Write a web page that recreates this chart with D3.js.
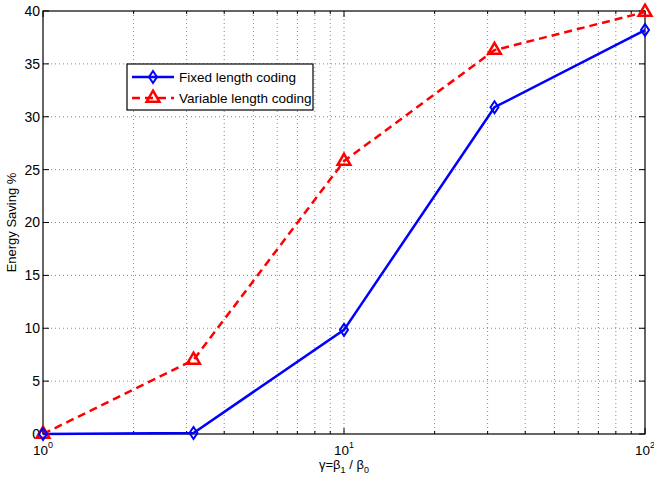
<!DOCTYPE html>
<html lang="en">
<head>
<meta charset="UTF-8">
<title>Energy Saving</title>
<style>
  body { margin: 0; background: #fff; }
  text { font-family: "Liberation Sans", Arial, sans-serif; }
</style>
</head>
<body>
<script src="https://cdnjs.cloudflare.com/ajax/libs/d3/7.8.5/d3.min.js"></script>
<script>
  let gammas = [1, 3.1623, 10, 31.623, 100]
  let fixedSaving = [0, 0.1, 9.85, 30.9, 38.2]
  let variableSaving = [0, 7.0, 25.8, 36.3, 39.9]
  let yTicks = [0, 5, 10, 15, 20, 25, 30, 35, 40]
  let xMajor = [1, 10, 100]

  let width = 654
  let height = 481
  let margin = { left: 43, right: 9, top: 11, bottom: 47 }
  let iw = width - margin.left - margin.right
  let ih = height - margin.top - margin.bottom

  let svg = d3.select('body').append('svg')
    .attr('width', width)
    .attr('height', height)

  let g = svg.append('g').attr('transform', `translate(${margin.left},${margin.top})`)

  let x = d3.scaleLog().domain([1, 100]).range([0, iw])
  let y = d3.scaleLinear().domain([0, 40]).range([ih, 0])

  // minor log ticks
  let xMinor = []
  for (let d = 1; d < 100; d *= 10) {
    for (let k = 2; k <= 9; k++) xMinor.push(d * k)
  }
  let xAll = xMinor.concat(xMajor.slice(1, 2))

  // grid
  g.selectAll('.vgrid').data(xAll).enter().append('line')
    .attr('x1', d => x(d)).attr('x2', d => x(d))
    .attr('y1', 0).attr('y2', ih)
    .attr('stroke', '#555').attr('stroke-width', 0.7)
    .attr('stroke-dasharray', '1,3')
  g.selectAll('.hgrid').data(yTicks.slice(1, -1)).enter().append('line')
    .attr('x1', 0).attr('x2', iw)
    .attr('y1', d => y(d)).attr('y2', d => y(d))
    .attr('stroke', '#555').attr('stroke-width', 0.7)
    .attr('stroke-dasharray', '1,3')

  // box
  g.append('rect').attr('width', iw).attr('height', ih)
    .attr('fill', 'none').attr('stroke', '#000').attr('stroke-width', 1.2)

  // ticks (inside, all four sides)
  let major = 6, minor = 3
  xMajor.concat(xMinor).forEach(d => {
    let len = xMajor.includes(d) ? major : minor
    g.append('line').attr('x1', x(d)).attr('x2', x(d)).attr('y1', ih).attr('y2', ih - len).attr('stroke', '#000')
    g.append('line').attr('x1', x(d)).attr('x2', x(d)).attr('y1', 0).attr('y2', len).attr('stroke', '#000')
  })
  yTicks.forEach(d => {
    g.append('line').attr('x1', 0).attr('x2', major).attr('y1', y(d)).attr('y2', y(d)).attr('stroke', '#000')
    g.append('line').attr('x1', iw).attr('x2', iw - major).attr('y1', y(d)).attr('y2', y(d)).attr('stroke', '#000')
  })

  // tick labels
  g.selectAll('.ylab').data(yTicks).enter().append('text')
    .attr('x', -3).attr('y', d => y(d)).attr('dy', '0.35em')
    .attr('text-anchor', 'end').attr('font-size', 14)
    .text(d => d)
  let xl = g.selectAll('.xlab').data(xMajor).enter().append('text')
    .attr('x', d => x(d)).attr('y', ih + 21)
    .attr('text-anchor', 'middle').attr('font-size', 13.5)
  xl.append('tspan').text('10')
  xl.append('tspan').attr('dy', -7).attr('font-size', 9).text(d => Math.round(Math.log10(d)))

  // axis titles
  svg.append('text')
    .attr('transform', `translate(16,${margin.top + ih / 2}) rotate(-90)`)
    .attr('text-anchor', 'middle').attr('font-size', 13)
    .text('Energy Saving %')
  let xt = svg.append('text')
    .attr('x', margin.left + iw / 2).attr('y', 469)
    .attr('text-anchor', 'middle').attr('font-size', 13)
  xt.append('tspan').text('γ=β')
  xt.append('tspan').attr('dy', 4).attr('font-size', 9).text('1')
  xt.append('tspan').attr('dy', -4).text(' / β')
  xt.append('tspan').attr('dy', 4).attr('font-size', 9).text('0')

  let line = d3.line().x(d => x(d[0])).y(d => y(d[1]))
  let fixedPts = gammas.map((d, i) => [d, fixedSaving[i]])
  let varPts = gammas.map((d, i) => [d, variableSaving[i]])

  let plot = g.append('g')
  plot.append('path').datum(varPts).attr('d', line)
    .attr('fill', 'none').attr('stroke', '#ff0000').attr('stroke-width', 2.5)
    .attr('stroke-dasharray', '8,5')
  plot.append('path').datum(fixedPts).attr('d', line)
    .attr('fill', 'none').attr('stroke', '#0000ff').attr('stroke-width', 2.5)

  let tri = d3.symbol().type(d3.symbolTriangle).size(70)
  let dia = 'M0,-6L4,0L0,6L-4,0Z'
  plot.selectAll('.tri').data(varPts).enter().append('path')
    .attr('d', tri).attr('transform', d => `translate(${x(d[0])},${y(d[1])})`)
    .attr('fill', 'none').attr('stroke', '#ff0000').attr('stroke-width', 2.5)
  plot.selectAll('.dia').data(fixedPts).enter().append('path')
    .attr('d', dia).attr('transform', d => `translate(${x(d[0])},${y(d[1])})`)
    .attr('fill', 'none').attr('stroke', '#0000ff').attr('stroke-width', 2)

  // legend
  let lg = svg.append('g').attr('transform', 'translate(127,64)')
  lg.append('rect').attr('width', 186).attr('height', 46)
    .attr('fill', '#fff').attr('stroke', '#000').attr('stroke-width', 1.2)
  let items = [
    { name: 'Fixed length coding', color: '#0000ff', dash: null, sym: dia, sw: 2 },
    { name: 'Variable length coding', color: '#ff0000', dash: '8,5', sym: tri, sw: 2.5 }
  ]
  items.forEach((it, i) => {
    let yy = 13 + i * 21
    lg.append('line').attr('x1', 5).attr('x2', 47).attr('y1', yy).attr('y2', yy)
      .attr('stroke', it.color).attr('stroke-width', 2.5).attr('stroke-dasharray', it.dash)
    lg.append('path').attr('d', it.sym).attr('transform', `translate(26,${yy})`)
      .attr('fill', 'none').attr('stroke', it.color).attr('stroke-width', it.sw)
    lg.append('text').attr('x', 52).attr('y', yy).attr('dy', '0.35em')
      .attr('font-size', 13.5).text(it.name)
  })
</script>
</body>
</html>
